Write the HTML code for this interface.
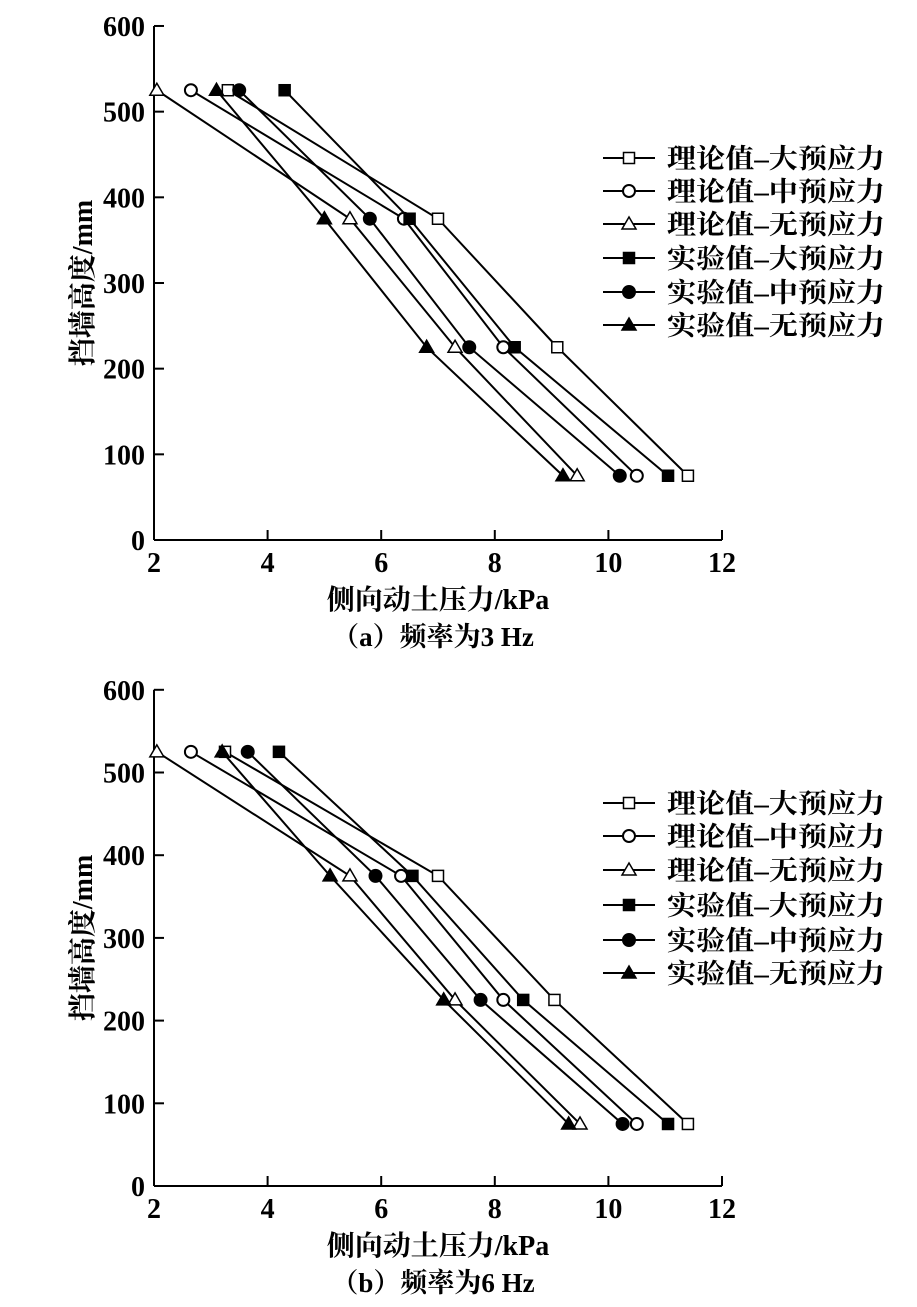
<!DOCTYPE html>
<html><head><meta charset="utf-8"><style>
html,body{margin:0;padding:0;background:#fff;}
svg{display:block}
text{font-family:"Liberation Serif","Noto Serif CJK SC",serif;fill:#000;}
</style></head><body>
<svg id="s" width="917" height="1307" xmlns="http://www.w3.org/2000/svg"></svg>
<script>
const S=document.getElementById('s');let h='';
const names=['理论值–大预应力','理论值–中预应力','理论值–无预应力','实验值–大预应力','实验值–中预应力','实验值–无预应力'];
const mk=['so','co','to','sf','cf','tf'];
function marker(t,x,y){const f=t[1]=='f'?'#000':'#fff';
 if(t[0]=='s')return `<rect x="${x-5.5}" y="${y-5.5}" width="11" height="11" fill="${f}" stroke="#000" stroke-width="1.5"/>`;
 if(t[0]=='c')return `<circle cx="${x}" cy="${y}" r="6" fill="${f}" stroke="#000" stroke-width="2"/>`;
 return `<polygon points="${x},${y-7} ${x-7},${y+5} ${x+7},${y+5}" fill="${f}" stroke="#000" stroke-width="1.5"/>`;}
function chart(y0,sy,data,legY,cap){
 const X=v=>154+(v-2)*56.8, Y=v=>y0-v*sy;
 h+=`<line x1="154" y1="${Y(600)}" x2="154" y2="${y0}" stroke="#000" stroke-width="2"/><line x1="154" y1="${y0}" x2="722" y2="${y0}" stroke="#000" stroke-width="2"/>`;
 for(let v=0;v<=600;v+=100){h+=`<line x1="154" y1="${Y(v)}" x2="164" y2="${Y(v)}" stroke="#000" stroke-width="2"/><text x="145" y="${Y(v)+10}" text-anchor="end" font-size="28" font-weight="bold">${v}</text>`;}
 for(let v=2;v<=12;v+=2){h+=`<line x1="${X(v)}" y1="${y0}" x2="${X(v)}" y2="${y0-10}" stroke="#000" stroke-width="2"/><text x="${X(v)}" y="${y0+32}" text-anchor="middle" font-size="28" font-weight="bold">${v}</text>`;}
 h+=`<text x="438" y="${y0+69}" text-anchor="middle" font-size="28" font-weight="bold">侧向动土压力/kPa</text>`;
 h+=`<text x="433" y="${y0+106}" text-anchor="middle" font-size="27" font-weight="bold">${cap}</text>`;
 h+=`<text transform="translate(92,${Y(300)}) rotate(-90)" text-anchor="middle" font-size="28" font-weight="bold">挡墙高度/mm</text>`;
 const hs=[525,375,225,75];
 data.forEach((d,i)=>{const pts=d.map((x,j)=>X(x)+','+Y(hs[j])).join(' ');
  h+=`<polyline points="${pts}" fill="none" stroke="#000" stroke-width="2"/>`;
  d.forEach((x,j)=>h+=marker(mk[i],X(x),Y(hs[j])));
  const ly=legY[i];h+=`<line x1="603" y1="${ly}" x2="655" y2="${ly}" stroke="#000" stroke-width="2"/>`+marker(mk[i],629,ly)+`<text x="667" y="${ly+10}" font-size="27" font-weight="bold" textLength="218" lengthAdjust="spacingAndGlyphs">${names[i]}</text>`;});
}
chart(540,0.8567,[[3.3,7.0,9.1,11.4],[2.65,6.4,8.15,10.5],[2.05,5.45,7.3,9.45],[4.3,6.5,8.35,11.05],[3.5,5.8,7.55,10.2],[3.1,5.0,6.8,9.2]],[158,191,224,258,292,325],'（a）频率为3 Hz');
chart(1186,0.827,[[3.25,7.0,9.05,11.4],[2.65,6.35,8.15,10.5],[2.05,5.45,7.3,9.5],[4.2,6.55,8.5,11.05],[3.65,5.9,7.75,10.25],[3.2,5.1,7.1,9.3]],[803,836,870,905,940,973],'（b）频率为6 Hz');
S.innerHTML=h;
</script>
</body></html>
